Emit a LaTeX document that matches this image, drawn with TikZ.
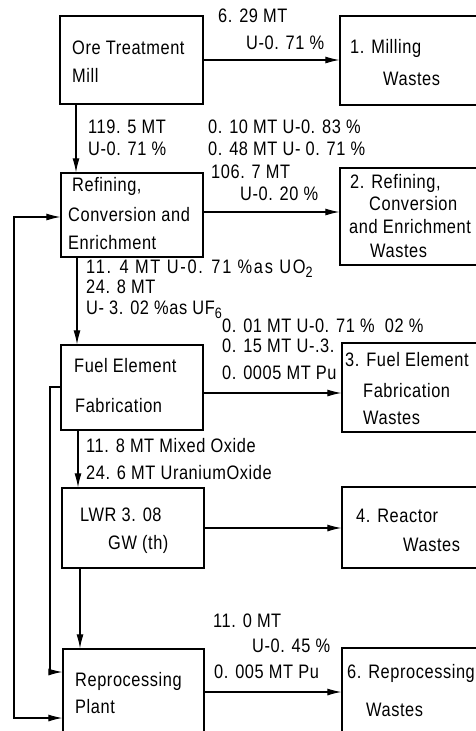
\documentclass[tikz,border=0pt]{standalone}
\usepackage{fontspec}
\setmainfont{Liberation Sans}[FakeStretch=0.84, LetterSpace=3]
\usetikzlibrary{arrows.meta}
\newcommand{\fsz}{\fontsize{19.5}{22}\selectfont}
\newcommand{\lsub}[1]{\raisebox{-0.45ex}{\fontsize{15}{16}\selectfont #1}}
\begin{document}
\begin{tikzpicture}[x=1pt,y=-1pt,
  box/.style={draw, line width=1.3pt, inner sep=0pt, fill=white},
  txt/.style={anchor=base west, inner sep=0pt, font=\fsz},
  flow/.style={line width=1.1pt, -{Latex[length=14pt,width=7pt]}},
  flowtwo/.style={line width=1.1pt, {Latex[length=14pt,width=7pt]}-{Latex[length=14pt,width=7pt]}},
  line/.style={line width=1.1pt}]
\useasboundingbox (0,0) rectangle (476,731);
% process boxes
\node[box, minimum width=143pt, minimum height=88pt] (ore) at (131.5,60) {};
\node[box, minimum width=142pt, minimum height=84pt] (ref) at (132,215) {};
\node[box, minimum width=142pt, minimum height=85pt] (fuel) at (132,387.5) {};
\node[box, minimum width=142pt, minimum height=80pt] (lwr) at (133,528) {};
\node[box, minimum width=141pt, minimum height=100pt] (rep) at (133.5,699) {};
% waste boxes
\node[box, minimum width=160pt, minimum height=89pt] (w1) at (420,60.5) {};
\node[box, minimum width=160pt, minimum height=97pt] (w2) at (420,216.5) {};
\node[box, minimum width=160pt, minimum height=81pt] (w4) at (422,527.5) {};
\node[box, minimum width=160pt, minimum height=100pt] (w6) at (422,698) {};
% box texts
\node[txt] (t1) at (72,54) {Ore Treatment};
\node[txt] (t2) at (72,82) {Mill};
\node[txt] (t3) at (72,191) {Refining,};
\node[txt] (t4) at (68,221) {Conversion and};
\node[txt] (t5) at (68,249) {Enrichment};
\node[txt] (t6) at (74,372) {Fuel Element};
\node[txt] (t7) at (75,412) {Fabrication};
\node[txt] (t8) at (80,521) {LWR 3. 08};
\node[txt] (t9) at (108,549) {GW (th)};
\node[txt] (t10) at (75,686) {Reprocessing};
\node[txt] (t11) at (75,713) {Plant};
\node[txt] (u1) at (350,53) {1. Milling};
\node[txt] (u2) at (383,85) {Wastes};
\node[txt] (u3) at (350,188) {2. Refining,};
\node[txt] (u4) at (369,210) {Conversion};
\node[txt] (u5) at (349,233) {and Enrichment};
\node[txt] (u6) at (370,257) {Wastes};
\node[txt] (u10) at (356,522) {4. Reactor};
\node[txt] (u11) at (403,551) {Wastes};
\node[txt] (u12) at (347,678) {6. Reprocessing};
\node[txt] (u13) at (366,716) {Wastes};
% flow labels
\node[txt] (l1) at (218,22) {6. 29 MT};
\node[txt] (l2) at (246,49) {U-0. 71 \%};
\node[txt] (l3) at (88,133) {119. 5 MT};
\node[txt] (l4) at (88,155) {U-0. 71 \%};
\node[txt] (l5) at (208,133) {0. 10 MT U-0. 83 \%};
\node[txt] (l6) at (208,155) {0. 48 MT U- 0. 71 \%};
\node[txt] (l7) at (211,178) {106. 7 MT};
\node[txt] (l8) at (240,200) {U-0. 20 \%};
\node[txt] (l9) at (86,273) {\addfontfeature{LetterSpace=9}11. 4 MT U-0. 71 \%as UO\lsub{2}};
\node[txt] (l10) at (86,293) {24. 8 MT};
\node[txt] (l11) at (86,314) {U- 3. 02 \%as UF\lsub{6}};
\node[txt] (l12) at (222,332) {0. 01 MT U-0. 71 \%\ \ 02 \%};
\node[txt] (l13) at (222,352) {0. 15 MT U-.3.};
\node[txt] (l14) at (222,379) {0. 0005 MT Pu};
\node[txt] (l15) at (86,452) {11. 8 MT Mixed Oxide};
\node[txt] (l16) at (86,479) {24. 6 MT UraniumOxide};
\node[txt] (l17) at (213,627) {11. 0 MT};
\node[txt] (l18) at (252,652) {U-0. 45 \%};
\node[txt] (l19) at (214,678) {0. 005 MT Pu};
% fuel fabrication wastes box (drawn over the labels it cuts)
\node[box, minimum width=160pt, minimum height=89pt] (w3) at (422,387.5) {};
\node[txt] (u7) at (345,366) {3. Fuel Element};
\node[txt] (u8) at (363,397) {Fabrication};
\node[txt] (u9) at (363,424) {Wastes};
% horizontal flows to waste
\draw[flow] (ore.east |- 0,60) -- (w1.west |- 0,60);
\draw[flow] (ref.east |- 0,212) -- (w2.west |- 0,212);
\draw[flow] (fuel.east |- 0,393) -- (w3.west |- 0,393);
\draw[flow] (lwr.east |- 0,528) -- (w4.west |- 0,528);
\draw[flow] (rep.east |- 0,692) -- (w6.west |- 0,692);
% vertical main flow
\draw[flow] (ore.south -| 76,0) -- (ref.north -| 76,0);
\draw[flow] (ref.south -| 77,0) -- (fuel.north -| 77,0);
\draw[flow] (fuel.south -| 78,0) -- (lwr.north -| 78,0);
\draw[flow] (lwr.south -| 80,0) -- (rep.north -| 80,0);
% recycle loops
\draw[flowtwo] (ref.west |- 0,217) -- (14,217) -- (14,718) -- (rep.west |- 0,718);
\draw[flow] (fuel.west |- 0,387) -- (50,387) -- (50,672) -- (rep.west |- 0,672);
\end{tikzpicture}
\end{document}
